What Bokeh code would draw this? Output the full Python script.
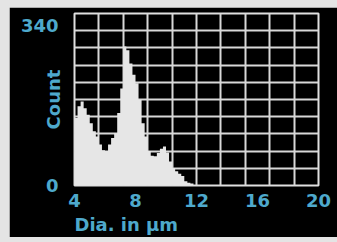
from bokeh.plotting import figure
from bokeh.models import Range1d, FixedTicker, Title
from bokeh.embed import file_html
from bokeh.resources import INLINE

# Histogram of diameters (bin start in µm, bin width 0.2 µm) and counts
bin_left = [4.0, 4.2, 4.4, 4.6, 4.8, 5.0, 5.2, 5.4, 5.6, 5.8,
            6.0, 6.2, 6.4, 6.6, 6.8, 7.0, 7.2, 7.4, 7.6, 7.8,
            8.0, 8.2, 8.4, 8.6, 8.8, 9.0, 9.2, 9.4, 9.6, 9.8,
            10.0, 10.2, 10.4, 10.6, 10.8, 11.0, 11.2, 11.4, 11.6, 11.8]
counts = [143, 168, 178, 164, 150, 132, 115, 104, 87, 75,
          73, 87, 101, 111, 154, 206, 295, 287, 259, 235,
          217, 182, 132, 104, 73, 63, 62, 69, 78, 83,
          70, 51, 37, 30, 25, 20, 9, 6, 4, 1]
bin_width = 0.2
x_ticks = [4, 8, 12, 16, 20]
y_ticks = [0, 340]
x_grid = [4 + 1.6 * i for i in range(11)]
y_grid = [36.5 * i for i in range(11)]

TXT = "#4ea9cc"
FONT = "DejaVu Sans"
FS = "18px"

p = figure(width=328, height=230, output_backend="svg", toolbar_location=None,
           x_range=Range1d(4, 20), y_range=Range1d(0, 365),
           min_border_left=65, min_border_right=19, min_border_top=6, min_border_bottom=10)
p.background_fill_color = "black"
p.border_fill_color = "black"
p.outline_line_color = "#e0e0e0"
p.outline_line_width = 2

xs = bin_left + [bin_left[-1] + bin_width]
ys = counts + [0]
p.varea_step(x=xs, y1=[0] * len(xs), y2=ys, step_mode="after", fill_color="#e6e6e6")

p.xgrid.ticker = FixedTicker(ticks=x_grid)
p.ygrid.ticker = FixedTicker(ticks=y_grid)
for g in (p.xgrid, p.ygrid):
    g.grid_line_color = "#d8d8d8"
    g.grid_line_width = 2

p.xaxis.ticker = FixedTicker(ticks=x_ticks)
p.yaxis.ticker = FixedTicker(ticks=y_ticks)
for ax in (p.xaxis, p.yaxis):
    ax.axis_line_color = None
    ax.major_tick_line_color = None
    ax.minor_tick_line_color = None
    ax.major_label_text_color = TXT
    ax.major_label_text_font = FONT
    ax.major_label_text_font_style = "bold"
    ax.major_label_text_font_size = FS
    ax.axis_label_text_color = TXT
    ax.axis_label_text_font = FONT
    ax.axis_label_text_font_style = "bold"
    ax.axis_label_text_font_size = FS
p.xaxis.major_label_standoff = 2
p.yaxis.major_label_standoff = 10
p.yaxis.axis_label = "Count"
p.yaxis.axis_label_standoff = -46

p.add_layout(Title(text="Dia. in µm", align="left", text_color=TXT, text_font=FONT,
                   text_font_style="bold", text_font_size=FS, standoff=5,
                   offset=0), "below")

html = file_html(p, INLINE)
html = html.replace("<head>", "<head><style>html,body{background:#e4e4e4 !important;} body{margin:7px 0 0 9px !important;}</style>", 1)
open("out.html", "w").write(html)
